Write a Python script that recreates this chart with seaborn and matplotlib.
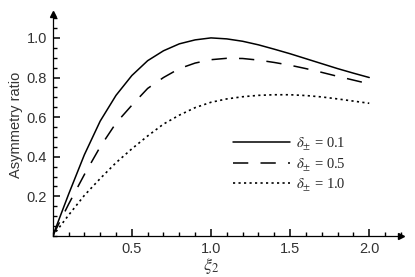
import numpy as np
import pandas as pd
import matplotlib
matplotlib.use("Agg")
import matplotlib.pyplot as plt
from matplotlib.ticker import MultipleLocator
import seaborn as sns

# data
XI2 = [0.0, 0.1, 0.2, 0.3, 0.4, 0.5, 0.6, 0.7, 0.8, 0.9, 1.0,
       1.1, 1.2, 1.3, 1.4, 1.5, 1.6, 1.7, 1.8, 1.9, 2.0]
RATIO_01 = [0.0, 0.21, 0.41, 0.58, 0.71, 0.81, 0.885, 0.935, 0.97, 0.99, 1.0,
            0.995, 0.983, 0.965, 0.943, 0.92, 0.895, 0.87, 0.845, 0.822, 0.80]
RATIO_05 = [0.0, 0.16, 0.31, 0.45, 0.57, 0.66, 0.745, 0.80, 0.845, 0.873, 0.89,
            0.897, 0.896, 0.888, 0.876, 0.862, 0.845, 0.826, 0.806, 0.787, 0.768]
RATIO_10 = [0.0, 0.105, 0.205, 0.29, 0.37, 0.44, 0.505, 0.565, 0.61, 0.648, 0.675,
            0.692, 0.703, 0.71, 0.713, 0.713, 0.709, 0.702, 0.692, 0.681, 0.67]
LABELS = [r"$\delta_{\pm}$ = 0.1", r"$\delta_{\pm}$ = 0.5", r"$\delta_{\pm}$ = 1.0"]
X_TICKS = [0.5, 1.0, 1.5, 2.0]
Y_TICKS = [0.2, 0.4, 0.6, 0.8, 1.0]
XMAX, YMAX = 2.2, 1.12

sns.set_style("ticks", {"xtick.direction": "in", "ytick.direction": "in",
                        "axes.edgecolor": "black", "xtick.color": "black",
                        "ytick.color": "black"})
plt.rcParams["font.family"] = ["Liberation Sans", "DejaVu Sans"]
plt.rcParams["mathtext.fontset"] = "stix"
plt.rcParams.update({"xtick.major.size": 5, "ytick.major.size": 5,
                     "xtick.minor.size": 3, "ytick.minor.size": 3,
                     "xtick.major.width": 1.1, "ytick.major.width": 1.1,
                     "xtick.minor.width": 1.0, "ytick.minor.width": 1.0,
                     "axes.axisbelow": False})

fig = plt.figure(figsize=(4.15, 2.77), dpi=100)
ax = fig.add_axes([0.127, 0.148, 0.839, 0.801])

styles = ["-", (0, (10, 8)), (0, (1.3, 2.0))]
widths = [1.1, 1.1, 1.2]
for ys, lab, ls, lw in zip([RATIO_01, RATIO_05, RATIO_10], LABELS, styles, widths):
    sns.lineplot(x=XI2, y=ys, ax=ax, color="black", linestyle=ls, lw=lw, label=lab)

ax.set_xlim(0, XMAX); ax.set_ylim(0, YMAX)
ax.set_xticks(X_TICKS); ax.set_yticks(Y_TICKS)
ax.set_xticklabels([f"{v:.1f}" for v in X_TICKS])
ax.set_yticklabels([f"{v:.1f}" for v in Y_TICKS])
ax.xaxis.set_minor_locator(MultipleLocator(0.1))
ax.yaxis.set_minor_locator(MultipleLocator(0.05))
ax.tick_params(which="major", direction="in", length=5, width=1.1, color="black",
               labelsize=10.5, labelcolor="#333333", pad=4)
ax.tick_params(which="minor", direction="in", length=3, width=1.0, color="black")
ax.spines[["top", "right"]].set_visible(False)
for s in ["left", "bottom"]:
    ax.spines[s].set_linewidth(0.9)
    ax.spines[s].set_color("black")

# axis arrows
ax.plot(1, 0, ">", color="black", ms=4, transform=ax.transAxes, clip_on=False)
ax.plot(0, 1, "^", color="black", ms=4, transform=ax.transAxes, clip_on=False)

ax.set_ylabel("Asymmetry ratio", fontsize=10.5, color="#333333", labelpad=3)
ax.set_xlabel(r"$\xi_2$", fontsize=13, color="#333333", labelpad=0)
ax.xaxis.set_label_coords(1.0 / XMAX, -0.09)

leg = ax.legend(loc="upper left", bbox_to_anchor=(0.48, 0.51), frameon=False,
                handlelength=3.9, handletextpad=0.45, labelspacing=0.28,
                prop={"family": "Liberation Serif", "size": 10.5})

plt.savefig("out.png", dpi=100)
plt.close()
